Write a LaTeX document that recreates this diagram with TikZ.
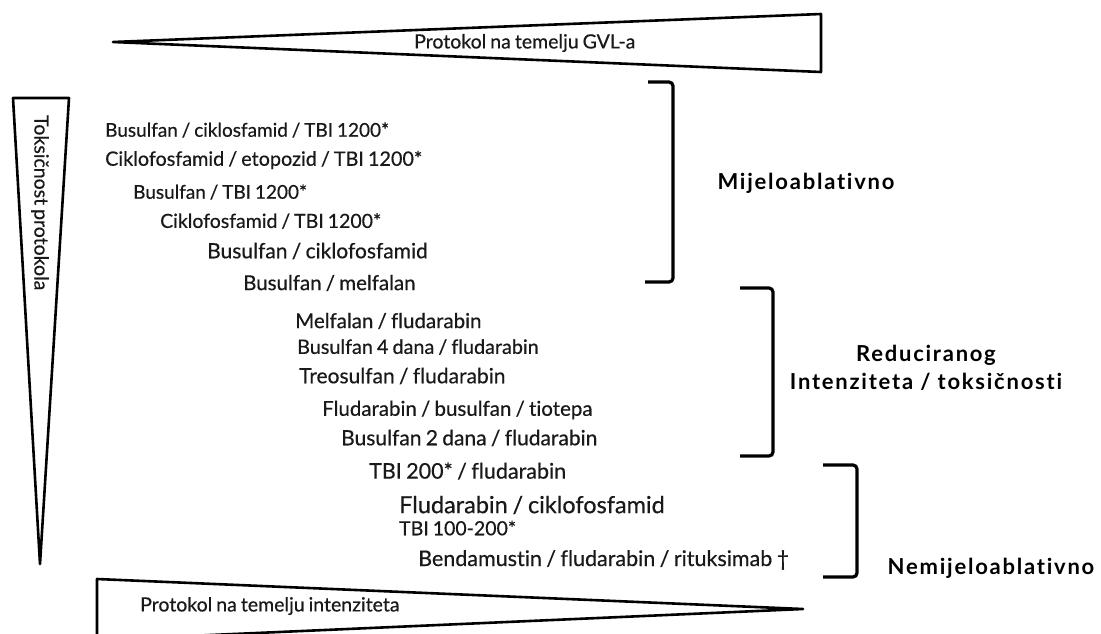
\documentclass[tikz,border=0pt]{standalone}
\usepackage{fontspec}
\setmainfont[Ligatures=NoCommon, WordSpace=0.8, FakeBold=0.5]{Lato}
\newfontfamily\grpfont[Ligatures=NoCommon, LetterSpace=8]{Lato}
\begin{document}
\begin{tikzpicture}[x=1pt,y=-1pt,
  tri/.style={draw=black, line width=2.6pt, line join=round},
  brk/.style={draw=black, line width=3.2pt, rounded corners=4pt},
  lbl/.style={inner sep=0pt, font=\fontsize{#1}{22}\selectfont, text=black!90, anchor=west},
  lbl/.default=19.5,
  grp/.style={inner sep=0pt, font=\grpfont\fontsize{22}{24}\selectfont\bfseries, text=black, align=center}]
\useasboundingbox (0,0) rectangle (1101,633);
\clip (0,0) rectangle (1101,633);
% triangles
\draw[tri] (113,42) -- (821,14) -- (821,72) -- cycle;
\draw[tri] (13,98) -- (69,98) -- (40,564) -- cycle;
\draw[tri] (97,579) -- (803,609) -- (97,640) -- cycle;
\node[lbl] (gvl) at (414,43) {Protokol na temelju GVL-a};
\node[lbl, rotate=-90] (tox) at (40,115) {Toksičnost protokola};
\node[lbl] (int) at (140,606) {Protokol na temelju intenziteta};
% brackets
\draw[brk] (648,82) -- (673,82) -- (673,282) -- (645,282);
\draw[brk] (740,288) -- (773,288) -- (773,456) -- (740,456);
\draw[brk] (823,465) -- (857,465) -- (857,577) -- (823,577);
% group labels
\node[grp] (mab) at (806,183) {Mijeloablativno};
\node[grp] (ric) at (926,368) {Reduciranog\\[4pt]Intenziteta / toksičnosti};
\node[grp] (nma) at (991,568) {Nemijeloablativno};
% protocol lines
\node[lbl=19] (p1) at (105,130) {Busulfan / ciklosfamid / TBI 1200*};
\node[lbl=19.8] (p2) at (105,160) {Ciklofosfamid / etopozid / TBI 1200*};
\node[lbl=19] (p3) at (133,192) {Busulfan / TBI 1200*};
\node[lbl=19.5] (p4) at (160,221) {Ciklofosfamid / TBI 1200*};
\node[lbl=21] (p5) at (207,251) {Busulfan / ciklofosfamid};
\node[lbl=20.5] (p6) at (243,283) {Busulfan / melfalan};
\node[lbl=20.5] (p7) at (295,321) {Melfalan / fludarabin};
\node[lbl=19.8] (p8) at (297,347) {Busulfan 4 dana / fludarabin};
\node[lbl=21] (p9) at (299,376) {Treosulfan / fludarabin};
\node[lbl=20.5] (p10) at (322,410) {Fludarabin / busulfan / tiotepa};
\node[lbl=21] (p11) at (341,438) {Busulfan 2 dana / fludarabin};
\node[lbl=21.5] (p12) at (369,471) {TBI 200* / fludarabin};
\node[lbl=23.5] (p13) at (399,505) {Fludarabin / ciklofosfamid};
\node[lbl=19.5] (p14) at (399,528) {TBI 100-200*};
\node[lbl=21.5] (p15) at (418,560) {Bendamustin / fludarabin / rituksimab †};
\end{tikzpicture}
\end{document}
